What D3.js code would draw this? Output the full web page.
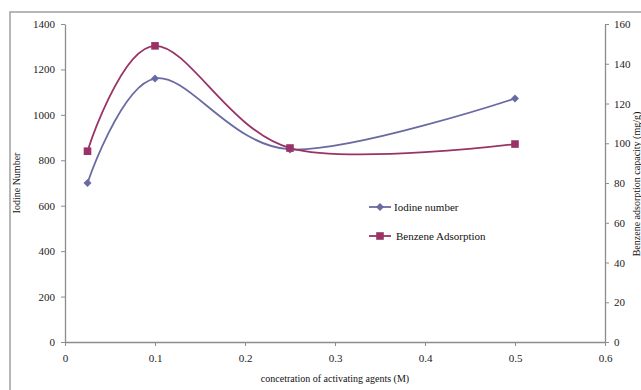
<!DOCTYPE html>
<html>
<head>
<meta charset="utf-8">
<script src="https://cdn.jsdelivr.net/npm/d3@7.9.0/dist/d3.min.js"></script>
<style>
  body { margin: 0; background: #fff; }
  svg { display: block; font-family: "Liberation Serif", "Times New Roman", serif; }
</style>
</head>
<body>
<svg id="chart" width="641" height="390"></svg>
<script>
// data
const concentration = [0.025, 0.1, 0.25, 0.5];
const iodineNumber = [700, 1160, 848, 1072];
const benzeneAdsorption = [96, 149, 97.6, 99.6];
const xTicks = [0, 0.1, 0.2, 0.3, 0.4, 0.5, 0.6];
const yLeftTicks = [0, 200, 400, 600, 800, 1000, 1200, 1400];
const yRightTicks = [0, 20, 40, 60, 80, 100, 120, 140, 160];

const svg = d3.select("#chart");
const axisColor = "#8c8c8c";

// outer frame (only left and top edges show in the picture)
svg.append("path")
    .attr("d", "M10,390 L10,12 L641,12")
    .attr("fill", "none")
    .attr("stroke", "#a0a0a0")
    .attr("stroke-width", 1.5);

const x = d3.scaleLinear().domain([0, 0.6]).range([65, 605]);
const yL = d3.scaleLinear().domain([0, 1400]).range([342, 24]);
const yR = d3.scaleLinear().domain([0, 160]).range([342, 24]);

function styleAxis(g) {
    g.select(".domain").attr("stroke", axisColor).attr("stroke-width", 1.3);
    g.selectAll(".tick line").attr("stroke", axisColor);
    g.selectAll(".tick text").attr("fill", "#222").style("font-size", "11px");
}

svg.append("g")
    .attr("transform", "translate(0,342)")
    .call(d3.axisBottom(x).tickValues(xTicks).tickFormat(d3.format("")).tickSize(4).tickSizeOuter(0).tickPadding(8))
    .call(styleAxis)
    .attr("font-family", null);

svg.append("g")
    .attr("transform", "translate(65,0)")
    .call(d3.axisLeft(yL).tickValues(yLeftTicks).tickFormat(d3.format("d")).tickSize(4).tickSizeOuter(0).tickPadding(6))
    .call(styleAxis)
    .attr("font-family", null);

svg.append("g")
    .attr("transform", "translate(605,0)")
    .call(d3.axisRight(yR).tickValues(yRightTicks).tickFormat(d3.format("d")).tickSize(4).tickSizeOuter(0).tickPadding(5))
    .call(styleAxis)
    .attr("font-family", null);

// axis titles
svg.append("text")
    .attr("x", 335).attr("y", 382)
    .attr("text-anchor", "middle")
    .style("font-size", "10px")
    .attr("fill", "#111")
    .text("concetration of activating agents (M)");

svg.append("text")
    .attr("transform", "translate(20,183) rotate(-90)")
    .attr("text-anchor", "middle")
    .style("font-size", "10px")
    .attr("fill", "#111")
    .text("Iodine Number");

// right title sits hard against the right edge
svg.append("text")
    .attr("transform", "translate(640,184) rotate(-90)")
    .attr("text-anchor", "middle")
    .style("font-size", "10px")
    .attr("fill", "#111")
    .text("Benzene adsorption capacity (mg/g)");

// series
const series = [
    { name: "Iodine number", values: iodineNumber, y: yL, color: "#6a6aa3", marker: "diamond" },
    { name: "Benzene Adsorption", values: benzeneAdsorption, y: yR, color: "#993366", marker: "square" }
];

const curve = d3.curveCatmullRom.alpha(0);

series.forEach(s => {
    const pts = concentration.map((c, i) => [x(c), s.y(s.values[i])]);
    svg.append("path")
        .attr("d", d3.line().curve(curve)(pts))
        .attr("fill", "none")
        .attr("stroke", s.color)
        .attr("stroke-width", 1.8);
});

function drawMarker(g, type, cx, cy, color) {
    if (type === "diamond") {
        g.append("path")
            .attr("d", `M${cx},${cy - 4} L${cx + 4},${cy} L${cx},${cy + 4} L${cx - 4},${cy} Z`)
            .attr("fill", color);
    } else {
        g.append("rect")
            .attr("x", cx - 3.8).attr("y", cy - 3.8)
            .attr("width", 7.6).attr("height", 7.6)
            .attr("fill", color);
    }
}

series.forEach(s => {
    const g = svg.append("g");
    concentration.forEach((c, i) => drawMarker(g, s.marker, x(c), s.y(s.values[i]), s.color));
});

// legend
const legend = svg.append("g");
const legendY = [207, 236];
series.forEach((s, i) => {
    legend.append("line")
        .attr("x1", 369).attr("x2", 391)
        .attr("y1", legendY[i]).attr("y2", legendY[i])
        .attr("stroke", s.color).attr("stroke-width", 1.8);
    drawMarker(legend, s.marker, 380, legendY[i], s.color);
    legend.append("text")
        .attr("x", 394 + i * 2).attr("y", legendY[i] + 4)
        .style("font-size", "11px")
        .attr("fill", "#111")
        .text(s.name);
});
</script>
</body>
</html>
